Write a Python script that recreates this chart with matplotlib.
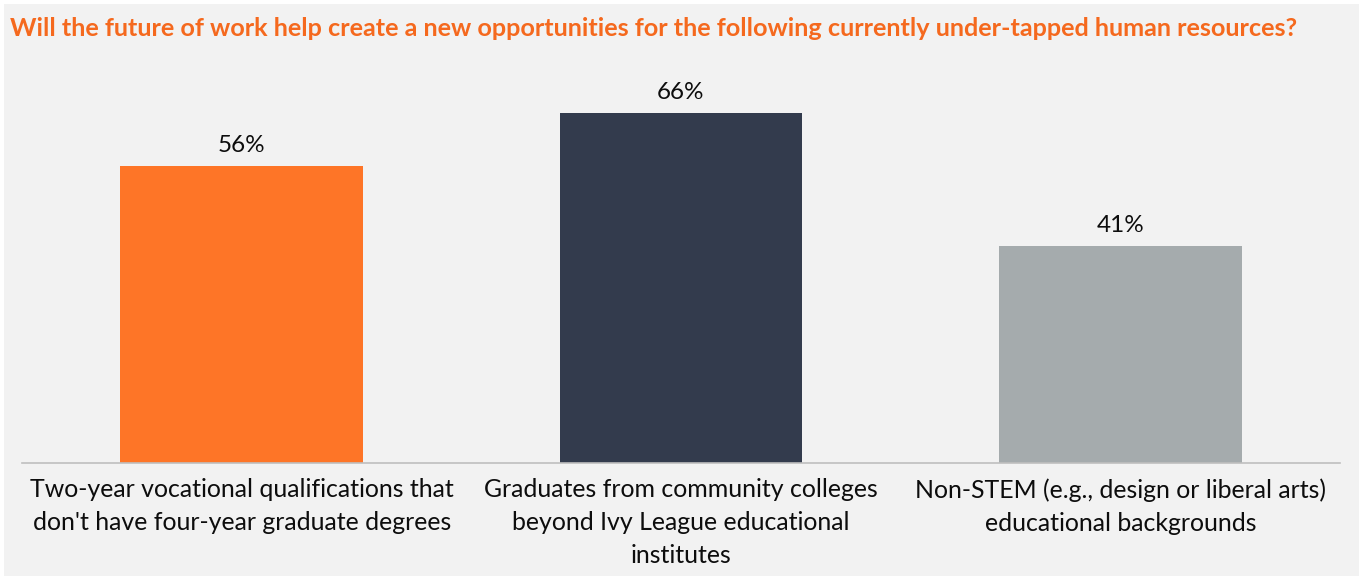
import matplotlib
matplotlib.use("Agg")
import matplotlib.pyplot as plt
from matplotlib.patches import Rectangle

plt.rcParams["font.family"] = ["Lato", "DejaVu Sans"]

categories = [
    "Two-year vocational qualifications that\ndon't have four-year graduate degrees",
    "Graduates from community colleges\nbeyond Ivy League educational\ninstitutes",
    "Non-STEM (e.g., design or liberal arts)\neducational backgrounds",
]
shares = [56, 66, 41]
bar_colors = ["#fe7527", "#333b4d", "#a5abad"]

TITLE = ("Will the future of work help create a new opportunities for the "
         "following currently under-tapped human resources?")
PANEL = "#f2f2f2"
TITLE_ORANGE = "#f5691e"
AXIS_LINE = "#bfbfbf"

W, H = 1359, 576
fig = plt.figure(figsize=(W / 100, H / 100), dpi=100, facecolor="white")
# grey panel with thin white margin on the left and top
fig.patches.append(Rectangle((4 / W, 0), 1 - 4 / W, 1 - 4 / H,
                             transform=fig.transFigure, facecolor=PANEL,
                             edgecolor="none", zorder=-1))

ax = fig.add_axes([22 / W, (H - 463) / H, 1318 / W, 397.5 / H])
ax.set_facecolor("none")
x = range(len(categories))
bars = ax.bar(x, shares, width=0.553, color=bar_colors, zorder=2)
for b, v in zip(bars, shares):
    ax.annotate(f"{v}%", (b.get_x() + b.get_width() / 2, v),
                xytext=(0, 7), textcoords="offset points",
                ha="center", va="bottom", fontsize=17.5, color="#0d0d0d")

ax.set_xlim(-0.5, 2.5)
ax.set_ylim(0, 75)
ax.set_yticks([])
ax.set_xticks(list(x))
ax.set_xticklabels(categories, fontsize=17.9, color="#0d0d0d", linespacing=1.52)
ax.tick_params(axis="x", length=0, pad=11)
for side in ("top", "right", "left"):
    ax.spines[side].set_visible(False)
ax.spines["bottom"].set_color(AXIS_LINE)
ax.spines["bottom"].set_linewidth(1.2)

fig.text(10 / W, 1 - 28 / H, TITLE, fontsize=18.2, fontweight="bold",
         color=TITLE_ORANGE, ha="left", va="center")

fig.savefig("out.png", dpi=100, facecolor=fig.get_facecolor())
